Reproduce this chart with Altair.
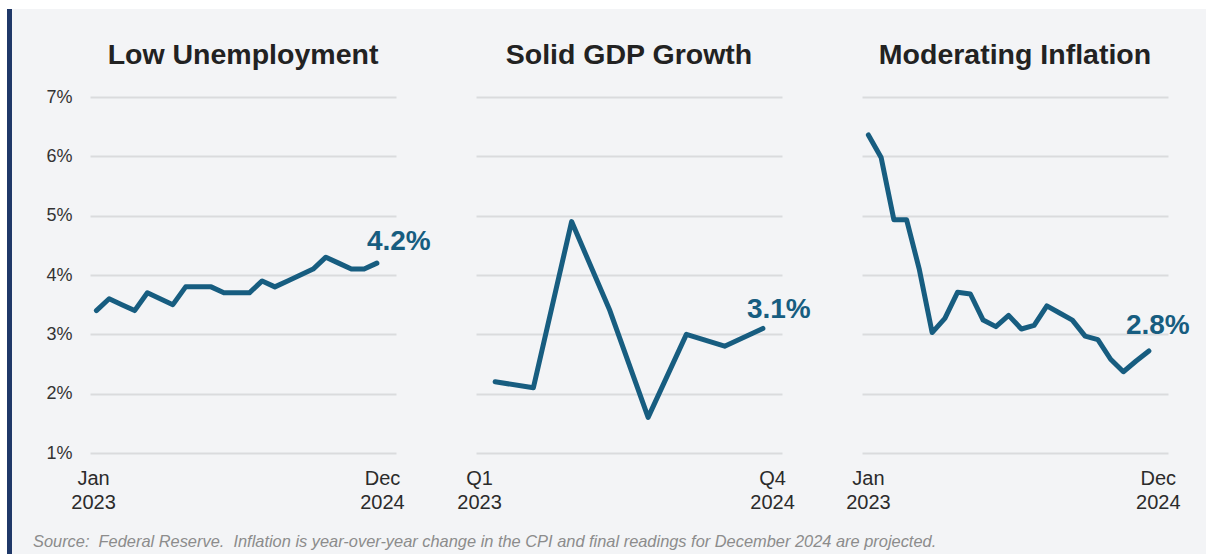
import altair as alt
import pandas as pd

# ---- data ----
unemployment = [3.4, 3.6, 3.5, 3.4, 3.7, 3.6, 3.5, 3.8, 3.8, 3.8, 3.7, 3.7,
                3.7, 3.9, 3.8, 3.9, 4.0, 4.1, 4.3, 4.2, 4.1, 4.1, 4.2]
gdp = [2.2, 2.1, 4.9, 3.4, 1.6, 3.0, 2.8, 3.1]
inflation = [6.36, 5.98, 4.93, 4.93, 4.09, 3.03, 3.27, 3.71, 3.68, 3.24, 3.13, 3.32,
             3.09, 3.15, 3.48, 3.36, 3.24, 2.97, 2.91, 2.58, 2.37, 2.55, 2.72]
titles = ["Low Unemployment", "Solid GDP Growth", "Moderating Inflation"]
notes = ["4.2%", "3.1%", "2.8%"]
first_labels = [["Jan", "2023"], ["Q1", "2023"], ["Jan", "2023"]]
last_labels = [["Dec", "2024"], ["Q4", "2024"], ["Dec", "2024"]]
y_ticks = [1, 2, 3, 4, 5, 6, 7]
source = ("Source:\u00a0 Federal Reserve.\u00a0 Inflation is year-over-year change in the CPI "
          "and final readings for December 2024 are projected.")

# ---- style ----
LINE = "#175d80"
BG = "#f3f4f6"
GRID = "#dadbdd"
FONT = "Liberation Sans"
W, H = 306, 356


def panel(values, title, note, domain, label_pos, first_lab, last_lab,
          show_y, ndx, ndy, decor=False):
    df = pd.DataFrame({"i": list(range(len(values))), "v": values})
    mid = (domain[0] + domain[1]) / 2
    expr = (f"datum.value < {mid} ? ['{first_lab[0]}', '{first_lab[1]}'] "
            f": ['{last_lab[0]}', '{last_lab[1]}']")
    x = alt.X("i:Q", scale=alt.Scale(domain=domain, nice=False, zero=False),
              axis=alt.Axis(values=label_pos, labelExpr=expr, grid=False, domain=False,
                            ticks=False, title=None, labelFontSize=20, labelFont=FONT,
                            labelColor="#2b2b2b", labelPadding=15, labelLineHeight=24,
                            labelFlush=False, labelOverlap=False, labelBaseline="top"))
    y = alt.Y("v:Q", scale=alt.Scale(domain=[1, 7], nice=False, zero=False),
              axis=alt.Axis(values=y_ticks, labelExpr="datum.value + '%'", grid=True,
                            gridColor=GRID, gridWidth=2, domain=False, ticks=False,
                            labels=show_y, title=None, labelFontSize=18, labelFont=FONT,
                            labelColor="#333333", labelPadding=18))
    base = alt.Chart(df)
    line = base.mark_line(color=LINE, strokeWidth=5, strokeCap="round",
                          strokeJoin="round").encode(x=x, y=y)
    ann = base.transform_filter(f"datum.i == {len(values) - 1}").mark_text(
        align="left", baseline="alphabetic", dx=ndx, dy=ndy, fontSize=28,
        fontWeight="bold", color=LINE, font=FONT).encode(
        x="i:Q", y="v:Q", text=alt.value(note))
    ttl = alt.Chart(pd.DataFrame({"t": [title]})).mark_text(
        fontSize=28.5, fontWeight="bold", color="#222222", baseline="alphabetic",
        align="center", font=FONT).encode(x=alt.value(W / 2), y=alt.value(-33), text="t:N")
    layers = []
    if decor:
        one = pd.DataFrame({"k": [0]})
        top = alt.Chart(one).mark_rect(color="white").encode(
            x=alt.value(-90), x2=alt.value(1116), y=alt.value(-97), y2=alt.value(-88))
        left = alt.Chart(one).mark_rect(color="white").encode(
            x=alt.value(-90), x2=alt.value(-83), y=alt.value(-97), y2=alt.value(457))
        bar = alt.Chart(one).mark_rect(color="#1f3868").encode(
            x=alt.value(-83), x2=alt.value(-78), y=alt.value(-88), y2=alt.value(457))
        src = alt.Chart(pd.DataFrame({"s": [source]})).mark_text(
            align="left", baseline="alphabetic", fontStyle="italic", fontSize=16.4,
            color="#8c8c8c", font=FONT).encode(x=alt.value(-57), y=alt.value(450), text="s:N")
        layers += [top, left, bar, src]
    return alt.layer(line, ann, ttl, *layers).properties(width=W, height=H)


p1 = panel(unemployment, titles[0], notes[0], [-0.5, 23.5], [-0.26, 22.4],
           first_labels[0], last_labels[0], True, -10, -13, decor=True)
p2 = panel(gdp, titles[1], notes[1], [-0.5, 7.5], [-0.42, 7.24],
           first_labels[1], last_labels[1], False, -16, -10)
p3 = panel(inflation, titles[2], notes[2], [-0.5, 23.5], [-0.03, 22.7],
           first_labels[2], last_labels[2], False, -23, -17)

chart = alt.hconcat(p1, p2, p3, spacing=80, bounds="flush", padding=0,
                    background=BG).configure_view(stroke=None)

chart.save("out.html", embed_options={"renderer": "svg", "actions": False})
